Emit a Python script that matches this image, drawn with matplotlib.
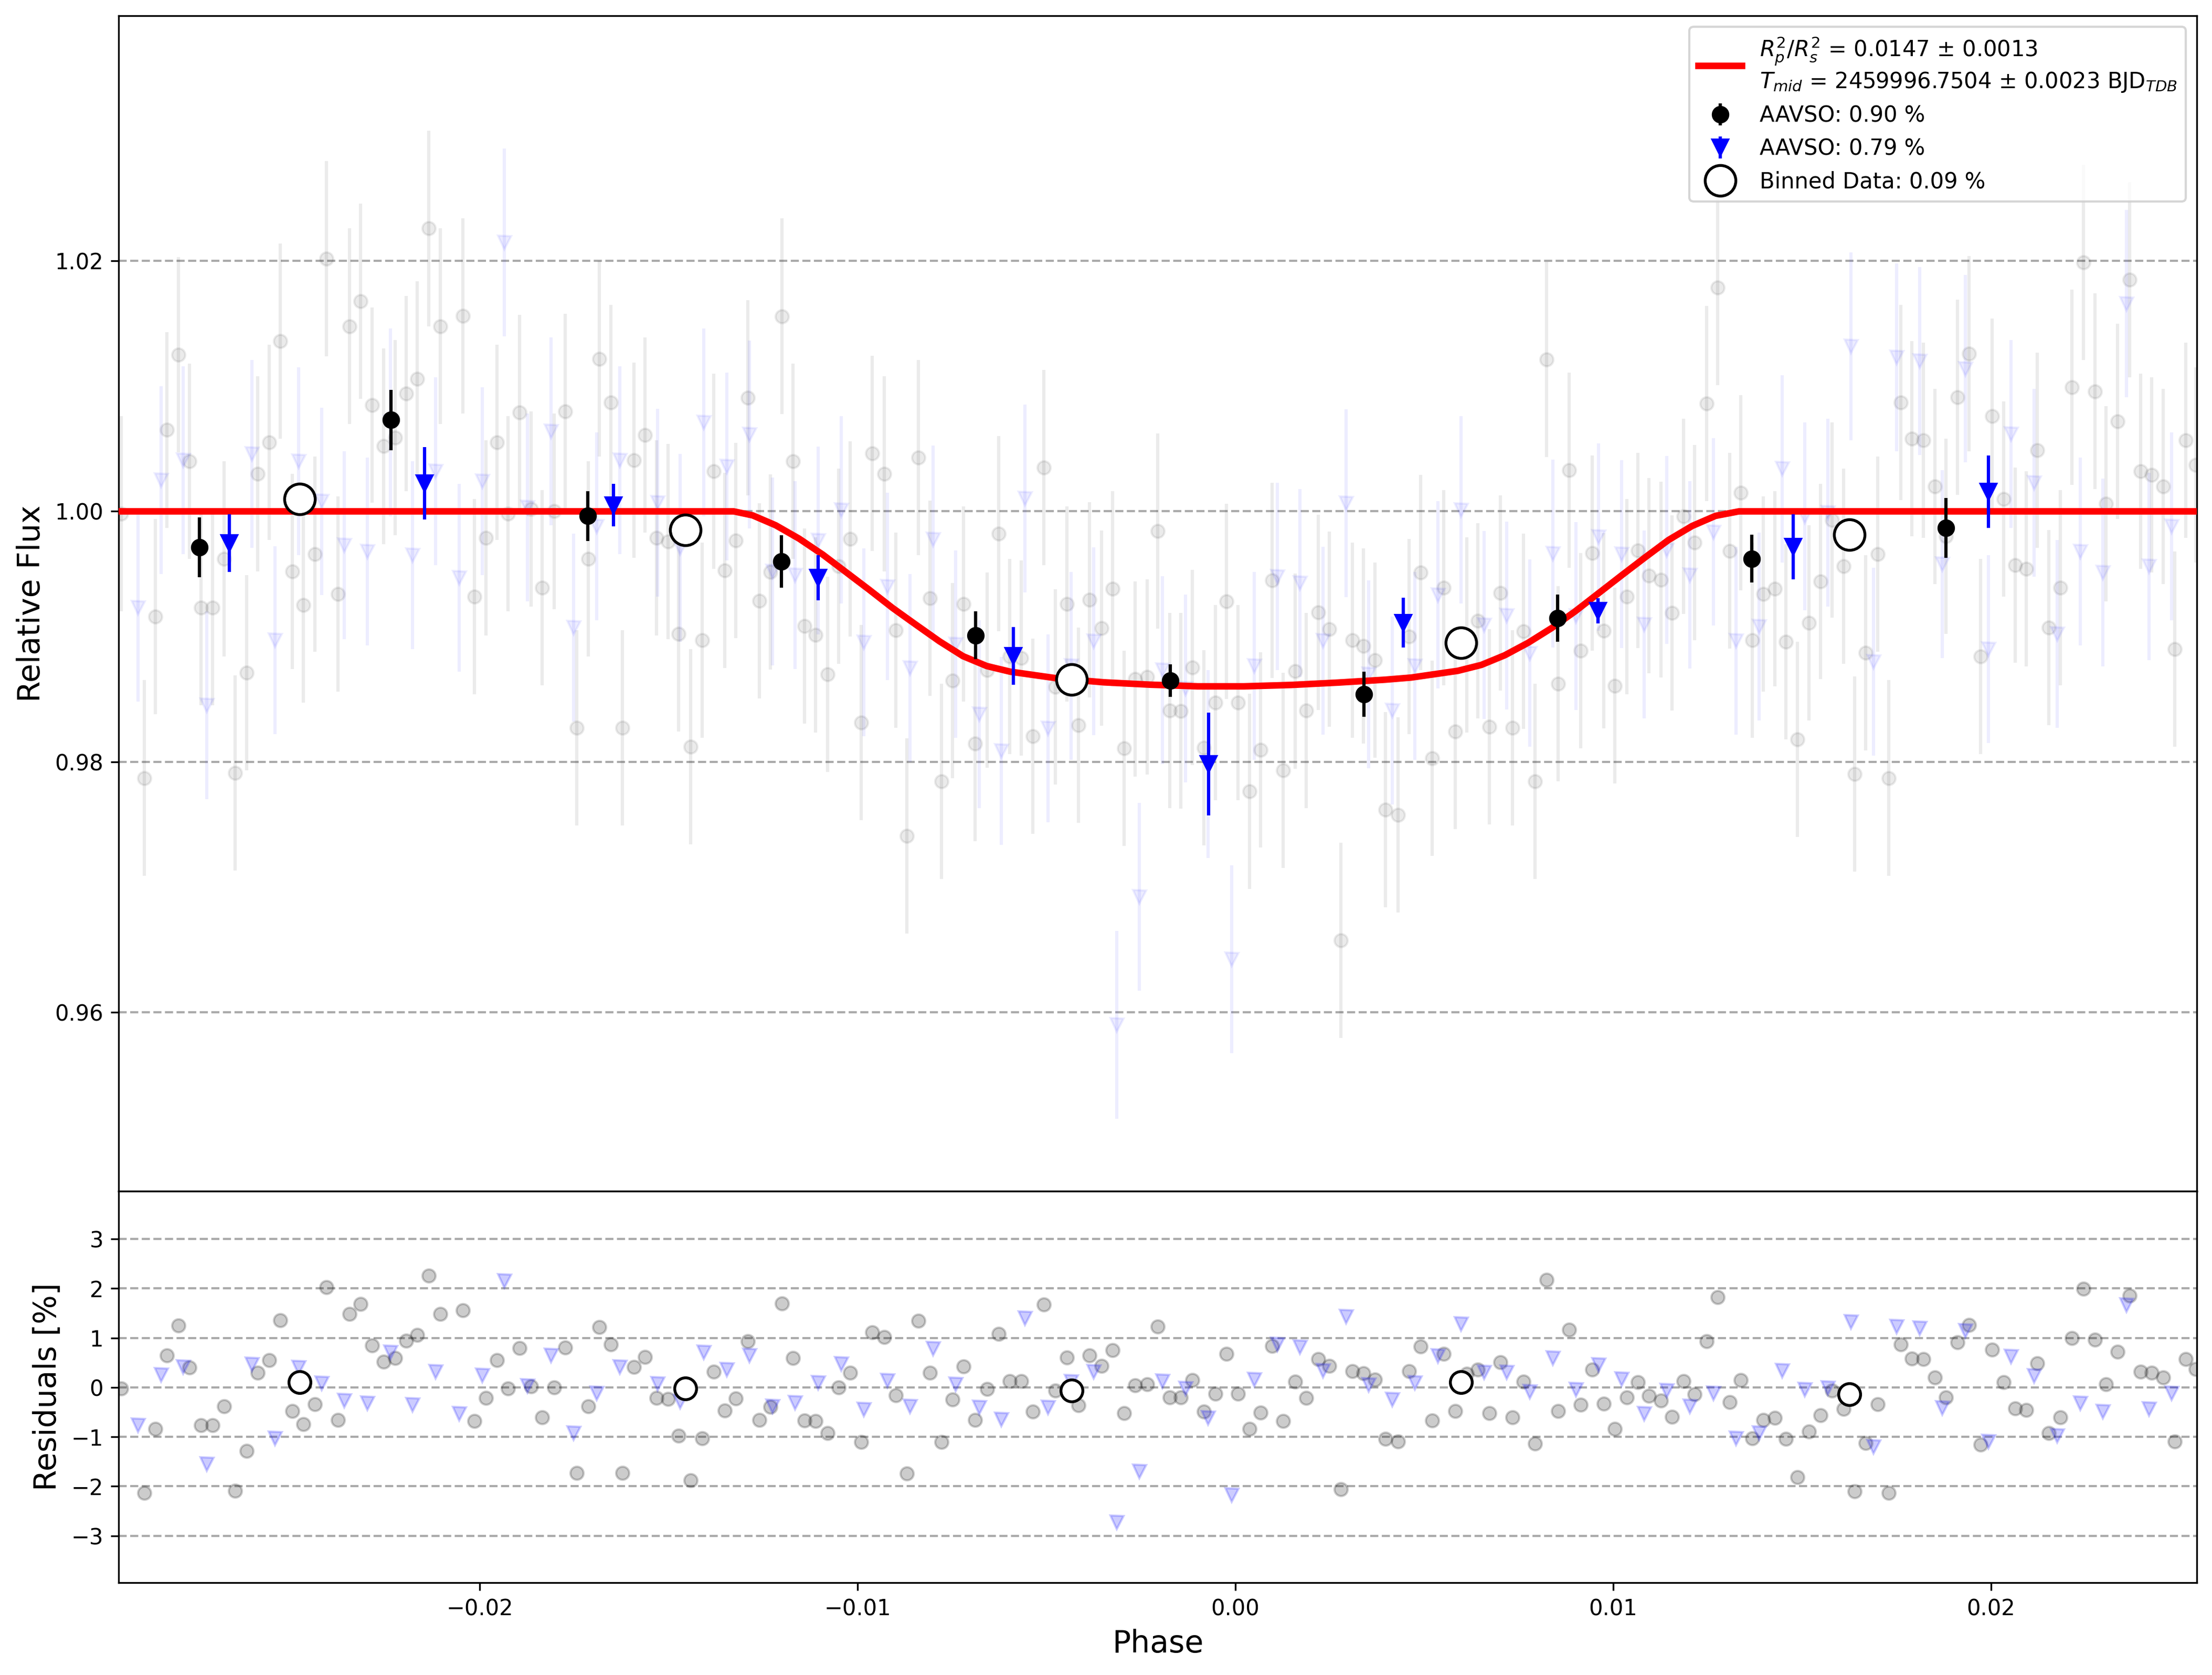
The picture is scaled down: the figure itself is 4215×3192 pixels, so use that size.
import numpy as np
import matplotlib.pyplot as plt

# transit model curve (phase, relative flux)
model_phase = [-0.02956, -0.01328, -0.01278, -0.01217, -0.01155, -0.01092, -0.01031, -0.00969,
               -0.00907, -0.00845, -0.00783, -0.00721, -0.00658, -0.00596, -0.00472, -0.00348,
               -0.00224, -0.00100, 0.00023, 0.00148, 0.00272, 0.00396, 0.00465, 0.00589,
               0.00651, 0.00713, 0.00775, 0.00837, 0.00899, 0.00961, 0.01023, 0.01085,
               0.01147, 0.01209, 0.01271, 0.01333, 0.02545]
model_flux = [1.0, 1.0, 0.99968, 0.99889, 0.99782, 0.99654, 0.99515, 0.99373,
              0.99227, 0.99093, 0.98961, 0.98843, 0.98764, 0.98719, 0.98666, 0.98634,
              0.98615, 0.98602, 0.98602, 0.98613, 0.98632, 0.98655, 0.98672, 0.98726,
              0.98773, 0.98850, 0.98950, 0.99067, 0.99200, 0.99345, 0.99490, 0.99633,
              0.99772, 0.99883, 0.99964, 1.0, 1.0]

# first AAVSO set (grey circles): phase and residual [%]
phase_a = [-0.02949, -0.02889, -0.02859, -0.02829, -0.02798, -0.02769, -0.02738, -0.02708,
           -0.02677, -0.02648, -0.02618, -0.02588, -0.02558, -0.02528, -0.02496, -0.02467,
           -0.02437, -0.02407, -0.02376, -0.02345, -0.02316, -0.02286, -0.02255, -0.02225,
           -0.02195, -0.02166, -0.02135, -0.02105, -0.02045, -0.02015, -0.01984, -0.01955,
           -0.01925, -0.01895, -0.01864, -0.01835,
           -0.01804, -0.01774, -0.01744, -0.01713, -0.01684, -0.01654, -0.01623, -0.01592,
           -0.01563, -0.01532, -0.01502, -0.01474, -0.01442, -0.01412, -0.01381, -0.01352,
           -0.01322, -0.01291, -0.01260, -0.01231, -0.01200, -0.01171, -0.01141, -0.01111,
           -0.01080, -0.01051, -0.01020, -0.00990, -0.00961, -0.00930, -0.00899, -0.00870,
           -0.00839, -0.00809, -0.00778, -0.00749, -0.00720,
           -0.00689, -0.00657, -0.00627, -0.00597, -0.00567, -0.00537, -0.00507, -0.00476,
           -0.00446, -0.00415, -0.00386, -0.00355, -0.00325, -0.00295, -0.00265, -0.00234,
           -0.00205, -0.00174, -0.00144, -0.00114, -0.00083, -0.00053, -0.00023, 0.00007,
           0.00037, 0.00066, 0.00097, 0.00127, 0.00158, 0.00188, 0.00219, 0.00248,
           0.00279, 0.00310, 0.00339, 0.00370, 0.00397,
           0.00431, 0.00460, 0.00491, 0.00521, 0.00552, 0.00582, 0.00613, 0.00642,
           0.00673, 0.00702, 0.00733, 0.00763, 0.00793, 0.00824, 0.00854, 0.00884,
           0.00914, 0.00944, 0.00975, 0.01005, 0.01036, 0.01066, 0.01095, 0.01126,
           0.01156, 0.01186, 0.01216, 0.01247, 0.01277, 0.01308, 0.01338, 0.01369,
           0.01398, 0.01428, 0.01457, 0.01488,
           0.01519, 0.01549, 0.01579, 0.01610, 0.01639, 0.01669, 0.01700, 0.01730,
           0.01761, 0.01791, 0.01821, 0.01852, 0.01881, 0.01912, 0.01942, 0.01973,
           0.02003, 0.02034, 0.02064, 0.02094, 0.02123, 0.02154, 0.02184, 0.02214,
           0.02245, 0.02275, 0.02305, 0.02336, 0.02367, 0.02396, 0.02426, 0.02456,
           0.02487, 0.02516, 0.02542]
resid_a = [-0.02, -2.13, -0.84, 0.65, 1.25, 0.40, -0.77, -0.77,
           -0.38, -2.09, -1.29, 0.30, 0.55, 1.36, -0.48, -0.75,
           -0.34, 2.02, -0.66, 1.48, 1.68, 0.85, 0.52, 0.59,
           0.94, 1.06, 2.26, 1.48, 1.56, -0.68, -0.21, 0.55,
           -0.02, 0.79, 0.02, -0.61,
           0.00, 0.80, -1.73, -0.38, 1.22, 0.87, -1.73, 0.41,
           0.61, -0.21, -0.24, -0.98, -1.88, -1.03, 0.32, -0.47,
           -0.23, 0.93, -0.66, -0.39, 1.70, 0.59, -0.67, -0.68,
           -0.93, 0.00, 0.29, -1.11, 1.11, 1.02, -0.16, -1.74,
           1.35, 0.29, -1.11, -0.25, 0.42,
           -0.66, -0.03, 1.08, 0.12, 0.12, -0.49, 1.67, -0.07,
           0.60, -0.36, 0.65, 0.43, 0.75, -0.52, 0.04, 0.06,
           1.23, -0.20, -0.20, 0.15, -0.49, -0.13, 0.68, -0.13,
           -0.84, -0.51, 0.84, -0.68, 0.11, -0.21, 0.57, 0.43,
           -2.06, 0.33, 0.28, 0.16, -1.04,
           -1.09, 0.33, 0.83, -0.67, 0.68, -0.48, 0.27, 0.36,
           -0.52, 0.51, -0.61, 0.11, -1.14, 2.17, -0.48, 1.16,
           -0.35, 0.36, -0.33, -0.84, -0.20, 0.10, -0.17, -0.27,
           -0.60, 0.12, -0.14, 0.93, 1.82, -0.30, 0.15, -1.03,
           -0.66, -0.62, -1.04, -1.82,
           -0.89, -0.56, -0.07, -0.44, -2.10, -1.13, -0.34, -2.13,
           0.87, 0.58, 0.57, 0.20, -0.20, 0.91, 1.26, -1.16,
           0.76, 0.10, -0.43, -0.46, 0.49, -0.93, -0.61, 0.99,
           1.99, 0.96, 0.06, 0.72, 1.85, 0.32, 0.29, 0.20,
           -1.10, 0.57, 0.37]

# second AAVSO set (blue triangles): phase and residual [%]
phase_b = [-0.02905, -0.02844, -0.02785, -0.02723, -0.02603, -0.02542, -0.02480, -0.02419,
           -0.02359, -0.02298, -0.02237, -0.02178, -0.02117, -0.02055, -0.01994, -0.01935,
           -0.01874,
           -0.01812, -0.01752, -0.01691, -0.01630, -0.01530, -0.01470, -0.01407, -0.01346,
           -0.01287, -0.01226, -0.01165, -0.01104, -0.01043, -0.00983, -0.00921, -0.00861,
           -0.00800, -0.00740,
           -0.00678, -0.00619, -0.00557, -0.00496, -0.00435, -0.00375, -0.00314, -0.00254,
           -0.00193, -0.00132, -0.00072, -0.00010, 0.00050, 0.00111, 0.00171, 0.00232,
           0.00293, 0.00353,
           0.00415, 0.00475, 0.00536, 0.00597, 0.00659, 0.00718, 0.00779, 0.00840,
           0.00901, 0.00961, 0.01022, 0.01082, 0.01142, 0.01203, 0.01265, 0.01326,
           0.01386, 0.01447, 0.01507,
           0.01569, 0.01629, 0.01690, 0.01751, 0.01812, 0.01872, 0.01932, 0.01994,
           0.02054, 0.02115, 0.02176, 0.02237, 0.02297, 0.02359, 0.02419, 0.02479]
resid_b = [-0.77, 0.25, 0.41, -1.55, 0.46, -1.03, 0.40, 0.08,
           -0.27, -0.32, 0.71, -0.35, 0.32, -0.53, 0.24, 2.15,
           0.03,
           0.64, -0.93, -0.12, 0.41, 0.07, -0.29, 0.71, 0.36,
           0.64, -0.38, -0.31, 0.09, 0.47, -0.45, 0.14, -0.38,
           0.78, 0.06,
           -0.41, -0.65, 1.40, -0.41, 0.11, 0.32, -2.73, -1.70,
           0.12, -0.02, -0.62, -2.18, 0.16, 0.87, 0.81, 0.34,
           1.43, 0.05,
           -0.25, 0.09, 0.63, 1.28, 0.31, 0.31, -0.09, 0.59,
           -0.04, 0.45, 0.17, -0.53, -0.07, -0.38, -0.12, -1.03,
           -0.92, 0.34, -0.04,
           -0.01, 1.32, -1.20, 1.23, 1.20, -0.42, 1.14, -1.10,
           0.62, 0.23, -0.98, -0.32, -0.49, 1.66, -0.44, -0.12]

raw_err_a = 0.0078
raw_err_b = 0.0075

# per-dataset binned points
bin_phase_a = [-0.02743, -0.02236, -0.01714, -0.01202, -0.00688, -0.00173, 0.00340, 0.00853, 0.01367, 0.01881]
bin_flux_a = [0.99712, 1.00730, 0.99963, 0.99599, 0.99010, 0.98647, 0.98540, 0.99146, 0.99622, 0.99868]
bin_err_a = [0.0024, 0.0024, 0.0020, 0.0021, 0.0019, 0.0013, 0.0018, 0.0019, 0.0019, 0.0024]

bin_phase_b = [-0.02663, -0.02147, -0.01646, -0.01104, -0.00588, -0.00071, 0.00445, 0.00960, 0.01477, 0.01993]
bin_flux_b = [0.99746, 1.00223, 1.00049, 0.99470, 0.98845, 0.97980, 0.99110, 0.99206, 0.99716, 1.00156]
bin_err_b = [0.0023, 0.0029, 0.0017, 0.0018, 0.0023, 0.0041, 0.0020, 0.0010, 0.0026, 0.0029]

# combined binned data
bin_phase = [-0.02477, -0.01456, -0.00433, 0.00597, 0.01626]
bin_flux = [1.00097, 0.99850, 0.98658, 0.98950, 0.99814]
bin_resid = [0.10, -0.02, -0.07, 0.10, -0.14]

fit_label = ("$R_p^2/R_s^2$ = 0.0147 \u00b1 0.0013\n"
             "$T_{mid}$ = 2459996.7504 \u00b1 0.0023 BJD$_{TDB}$")


def main():
    # raw fluxes = model + residual
    flux_a = np.interp(phase_a, model_phase, model_flux) + np.array(resid_a) / 100
    flux_b = np.interp(phase_b, model_phase, model_flux) + np.array(resid_b) / 100

    fig = plt.figure(figsize=(14.05, 10.64), dpi=300)
    gs = fig.add_gridspec(2, 1, height_ratios=[3, 1], hspace=0)
    ax = fig.add_subplot(gs[0])
    axr = fig.add_subplot(gs[1], sharex=ax)
    fig.subplots_adjust(left=0.0537, right=0.9931, top=0.9906, bottom=0.0551)

    '''
    main panel
    '''
    ax.errorbar(phase_a, flux_a, yerr=raw_err_a, fmt='o', color='black', ms=6, alpha=0.08, zorder=1)
    ax.errorbar(phase_b, flux_b, yerr=raw_err_b, fmt='v', color='blue', ms=6, alpha=0.07, zorder=1)
    line, = ax.plot(model_phase, model_flux, '-', color='red', lw=3, zorder=3, label=fit_label)
    eb_a = ax.errorbar(bin_phase_a, bin_flux_a, yerr=bin_err_a, fmt='o', color='black', ms=7,
                       zorder=4, label='AAVSO: 0.90 %')
    eb_b = ax.errorbar(bin_phase_b, bin_flux_b, yerr=bin_err_b, fmt='v', color='blue', ms=7,
                       zorder=4, label='AAVSO: 0.79 %')
    binned, = ax.plot(bin_phase, bin_flux, 'o', ms=14, mfc='white', mec='black', mew=1.3,
                      zorder=5, label='Binned Data: 0.09 %')

    ax.set_ylim(0.9457, 1.0396)
    ax.set_yticks([0.96, 0.98, 1.00, 1.02])
    ax.set_ylabel('Relative Flux', fontsize=14)
    ax.grid(axis='y', ls='--', color='#aaaaaa', lw=1)
    ax.set_axisbelow(True)
    ax.tick_params(labelbottom=False)
    ax.legend(handles=[line, eb_a, eb_b, binned], loc='upper right', fontsize=10)

    '''
    residuals
    '''
    axr.plot(phase_a, resid_a, 'o', color='black', ms=6, alpha=0.2, zorder=2)
    axr.plot(phase_b, resid_b, 'v', color='blue', ms=6, alpha=0.2, zorder=2)
    axr.plot(bin_phase, bin_resid, 'o', ms=10, mfc='white', mec='black', mew=1.3, zorder=3)
    axr.set_ylim(-3.95, 3.97)
    axr.set_yticks([-3, -2, -1, 0, 1, 2, 3])
    axr.set_ylabel('Residuals [%]', fontsize=14)
    axr.set_xlabel('Phase', fontsize=14)
    axr.grid(axis='y', ls='--', color='#aaaaaa', lw=1)
    axr.set_axisbelow(True)
    axr.set_xlim(-0.02956, 0.02545)

    fig.savefig('out.png', dpi=300)


if __name__ == '__main__':
    main()
